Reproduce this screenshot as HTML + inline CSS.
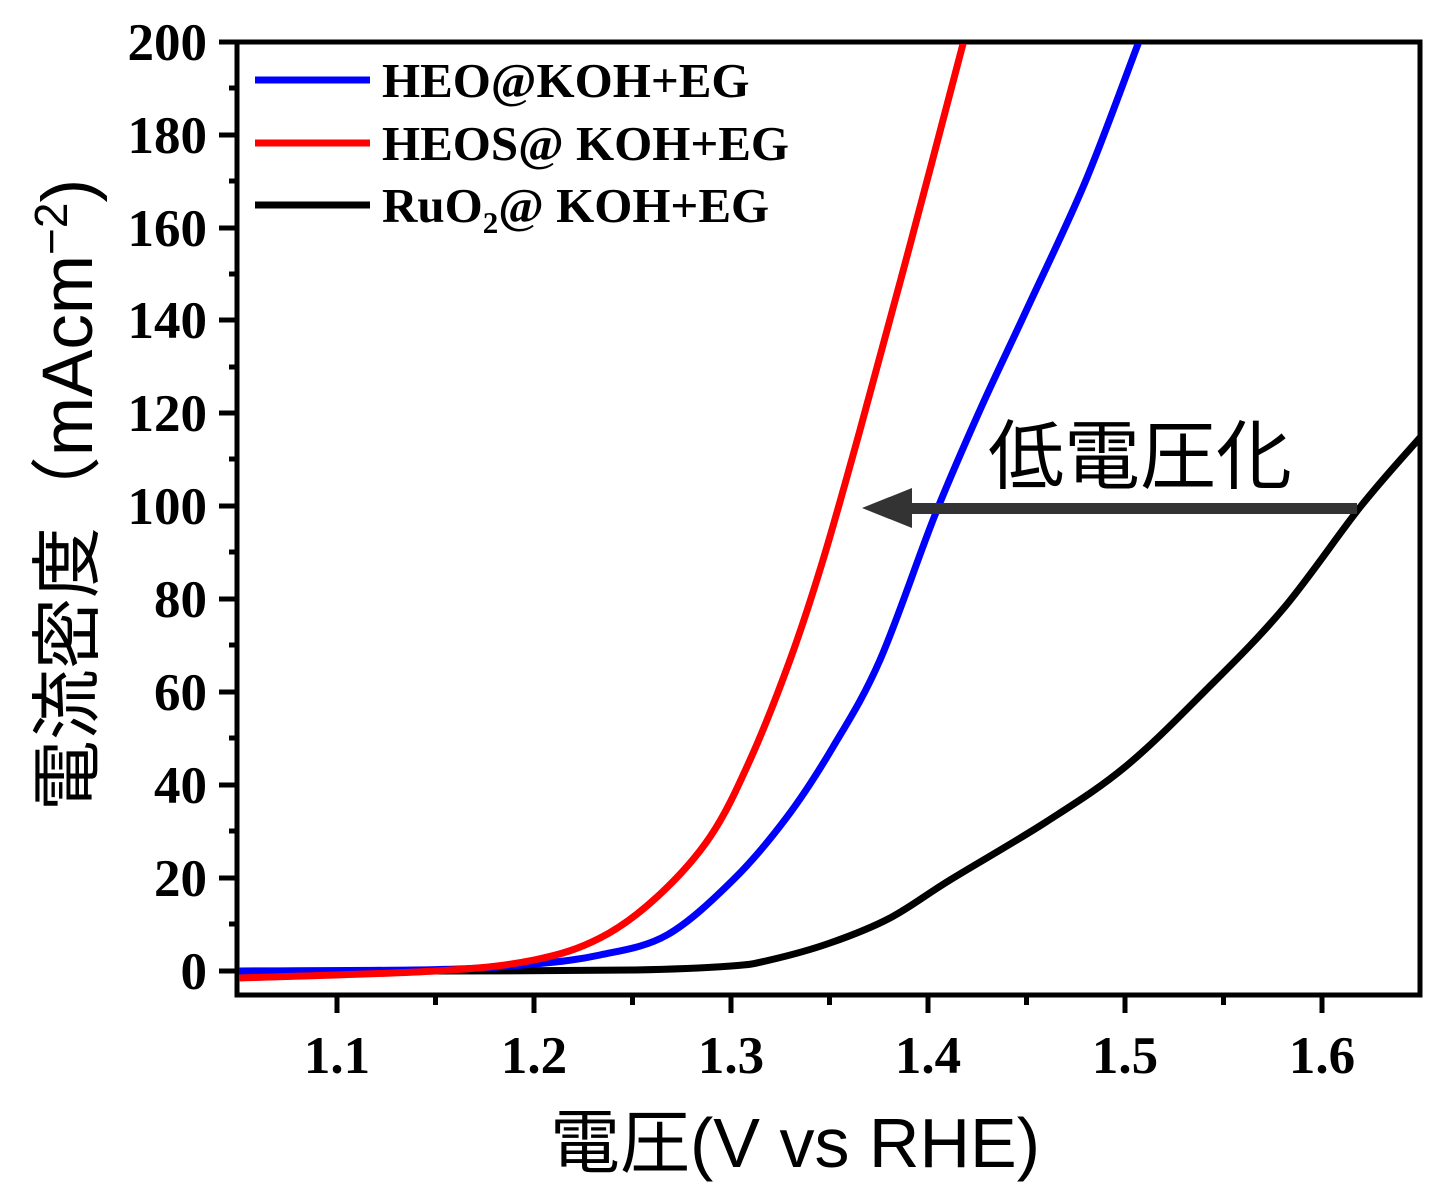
<!DOCTYPE html>
<html><head><meta charset="utf-8"><style>
body{margin:0;background:#fff}
svg{display:block}
.t{font-family:"Liberation Serif",serif;font-weight:bold;font-size:53px;fill:#000}
</style></head><body>
<svg width="1440" height="1195" viewBox="0 0 1440 1195" xmlns="http://www.w3.org/2000/svg">
<g stroke="#000" stroke-width="5" fill="none">
<rect x="237" y="42" width="1183" height="953"/>
<path d="M219 971H237M219 878H237M219 785H237M219 692H237M219 599H237M219 506H237M219 413H237M219 320H237M219 228H237M219 135H237M219 42H237"/>
<path d="M229 924H237M229 831H237M229 738H237M229 645H237M229 552H237M229 459H237M229 367H237M229 274H237M229 181H237M229 88H237"/>
<path d="M337 995V1013M534 995V1013M731 995V1013M928 995V1013M1125 995V1013M1322 995V1013"/>
<path d="M435.5 995V1005M632.5 995V1005M829.5 995V1005M1026.5 995V1005M1223.5 995V1005"/>
</g>
<g class="t" text-anchor="end">
<text x="207" y="989">0</text><text x="207" y="896">20</text><text x="207" y="803">40</text><text x="207" y="710">60</text><text x="207" y="617">80</text><text x="207" y="524">100</text><text x="207" y="431">120</text><text x="207" y="338">140</text><text x="207" y="246">160</text><text x="207" y="153">180</text><text x="207" y="60">200</text>
</g>
<g class="t" text-anchor="middle">
<text x="337" y="1073">1.1</text><text x="534" y="1073">1.2</text><text x="731" y="1073">1.3</text><text x="928" y="1073">1.4</text><text x="1125" y="1073">1.5</text><text x="1322" y="1073">1.6</text>
</g>
<defs><clipPath id="c"><rect x="239" y="44" width="1179" height="949"/></clipPath></defs>
<g clip-path="url(#c)" fill="none" stroke-width="7" stroke-linejoin="round">
<path stroke="#000" data-p="238.5,971 435,971 632.5,970 731,966 770,960 830,943 890,918 950,880 1046,822 1125,767 1204,692 1283,609 1361,506 1420.5,437"/>
<path stroke="#0000ff" data-p="238.5,971 435.5,969.6 534,964 600,955 667,935 733,880 787,817 833,747 880,660 935,515 980,410 1026.5,310 1085.6,181 1138.8,42 1150,15"/>
<path stroke="#ff0000" data-p="238.5,978 435.5,971 534,960 600,938 657,897 710,837 750,760 790,660 823,560 860,430 910,245 963.5,42 970,15"/>
</g>
<g stroke-width="7">
<line x1="255" y1="80" x2="370" y2="80" stroke="#0000ff"/>
<line x1="255" y1="143" x2="370" y2="143" stroke="#ff0000"/>
<line x1="255" y1="205" x2="370" y2="205" stroke="#000"/>
</g>
<g class="t" style="font-size:49px">
<text x="382" y="97">HEO@KOH+EG</text>
<text x="382" y="160">HEOS@ KOH+EG</text>
<text x="382" y="222">RuO<tspan font-size="31" dy="11">2</tspan><tspan dy="-11">@ KOH+EG</tspan></text>
</g>
<rect x="905" y="503" width="452" height="11" fill="#333"/>
<polygon points="862,508 912,488 912,528" fill="#333"/>
<text x="988" y="483" font-family="Noto Sans CJK JP, sans-serif" font-size="76" fill="#000">低電圧化</text>
<text x="795" y="1167" text-anchor="middle" font-family="Liberation Sans, Noto Sans CJK JP, sans-serif" font-size="70" fill="#000">電圧(V vs RHE)</text>
<text transform="translate(92,495) rotate(-90)" text-anchor="middle" font-family="Liberation Sans, Noto Sans CJK JP, sans-serif" font-size="71" fill="#000">電流密度（mAcm<tspan font-size="46" dy="-25">−2</tspan><tspan dy="25">)</tspan></text>
</svg>
<script>
document.querySelectorAll('path[data-p]').forEach(function(e){
var p=e.getAttribute('data-p').split(' ').map(function(s){return s.split(',').map(Number)});
var d='M'+p[0][0]+' '+p[0][1];
for(var i=0;i<p.length-1;i++){var a=p[i-1]||p[i],b=p[i],c=p[i+1],n=p[i+2]||c;
d+=' C'+(b[0]+(c[0]-a[0])/6)+' '+(b[1]+(c[1]-a[1])/6)+' '+(c[0]-(n[0]-b[0])/6)+' '+(c[1]-(n[1]-b[1])/6)+' '+c[0]+' '+c[1];}
e.setAttribute('d',d);});
</script>
</body></html>
